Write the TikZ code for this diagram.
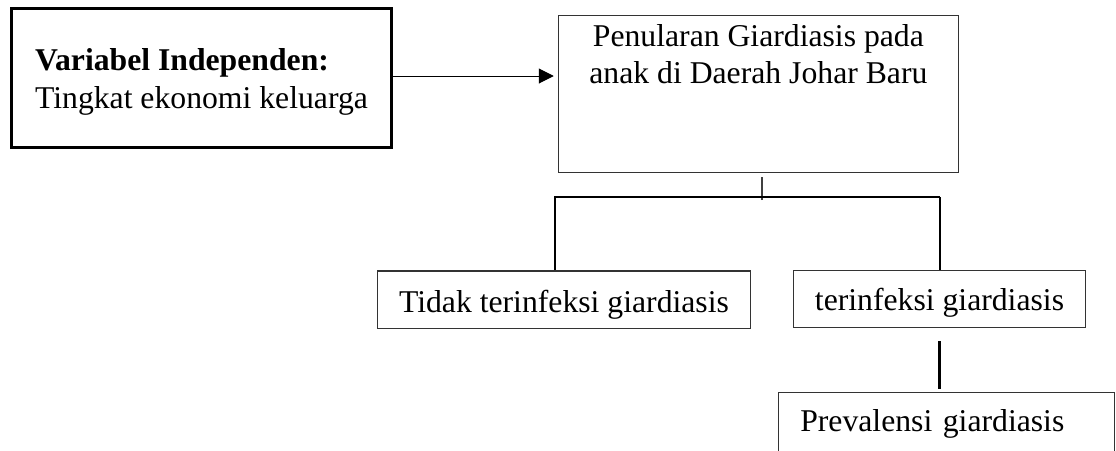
\documentclass[tikz,border=0pt]{standalone}
\usepackage{fontspec}
\setmainfont{Liberation Serif}
\usetikzlibrary{arrows.meta}
\begin{document}
\begin{tikzpicture}[x=1pt,y=-1pt,
  txt/.style={font=\fontsize{31.7}{36.5}\selectfont, inner sep=0pt},
  thinbox/.style={txt, draw=black!80, line width=1.3pt},
  thickbox/.style={txt, draw=black, line width=3pt},
  arr/.style={-{Triangle[length=15pt,width=15pt]}, line width=1pt},
  bar/.style={line width=1.2pt},
  vline/.style={line width=2.6pt},
  tickline/.style={line width=1.3pt, black!75}]
\clip (0,0) rectangle (1116,450);
\fill[white] (0,0) rectangle (1116,450);
% left box
\node[thickbox, align=left, minimum width=380pt, anchor=base,
      text height=99.5pt, text depth=39.5pt,
      font=\fontsize{31.7}{38}\selectfont] (L) at (201.5,108)
  {\textbf{Variabel Independen:}\\Tingkat ekonomi keluarga};
% top box
\node[thinbox, align=center, minimum width=400pt, anchor=base,
      text height=67.4pt, text depth=89.5pt] (P) at (758.4,83)
  {Penularan Giardiasis pada\\anak di Daerah Johar Baru};
% bottom boxes
\node[thinbox, minimum width=373pt, anchor=base,
      text height=41pt, text depth=16.5pt] (T) at (564,312)
  {Tidak terinfeksi giardiasis};
\node[thinbox, minimum width=292pt, anchor=base,
      text height=40.4pt, text depth=17pt] (F) at (939.5,310.7)
  {terinfeksi giardiasis};
\node[thinbox, anchor=base west, inner xsep=22pt, text width=292pt, align=left,
      text height=39pt, text depth=40pt] (R) at (777.6,431.7)
  {Prevalensi giardiasis};
% connectors
\draw[arr, shorten >=4pt] (L.east |- 0,76) -- (P.west |- 0,76);
\coordinate (tk) at (762,200);
\draw[tickline] (tk) -- (tk |- 0,177);
\coordinate (hl) at (554,197);
\coordinate (hr) at (940,197);
\draw[bar] (hl) -- (hr);
\draw[vline] (hl -| 555,0) -- (555,0 |- T.north);
\draw[vline] (hr) -- (hr |- F.north);
\draw[vline, shorten <=13pt, shorten >=3pt] (F.south) -- (F.south |- R.north);
\end{tikzpicture}
\end{document}
